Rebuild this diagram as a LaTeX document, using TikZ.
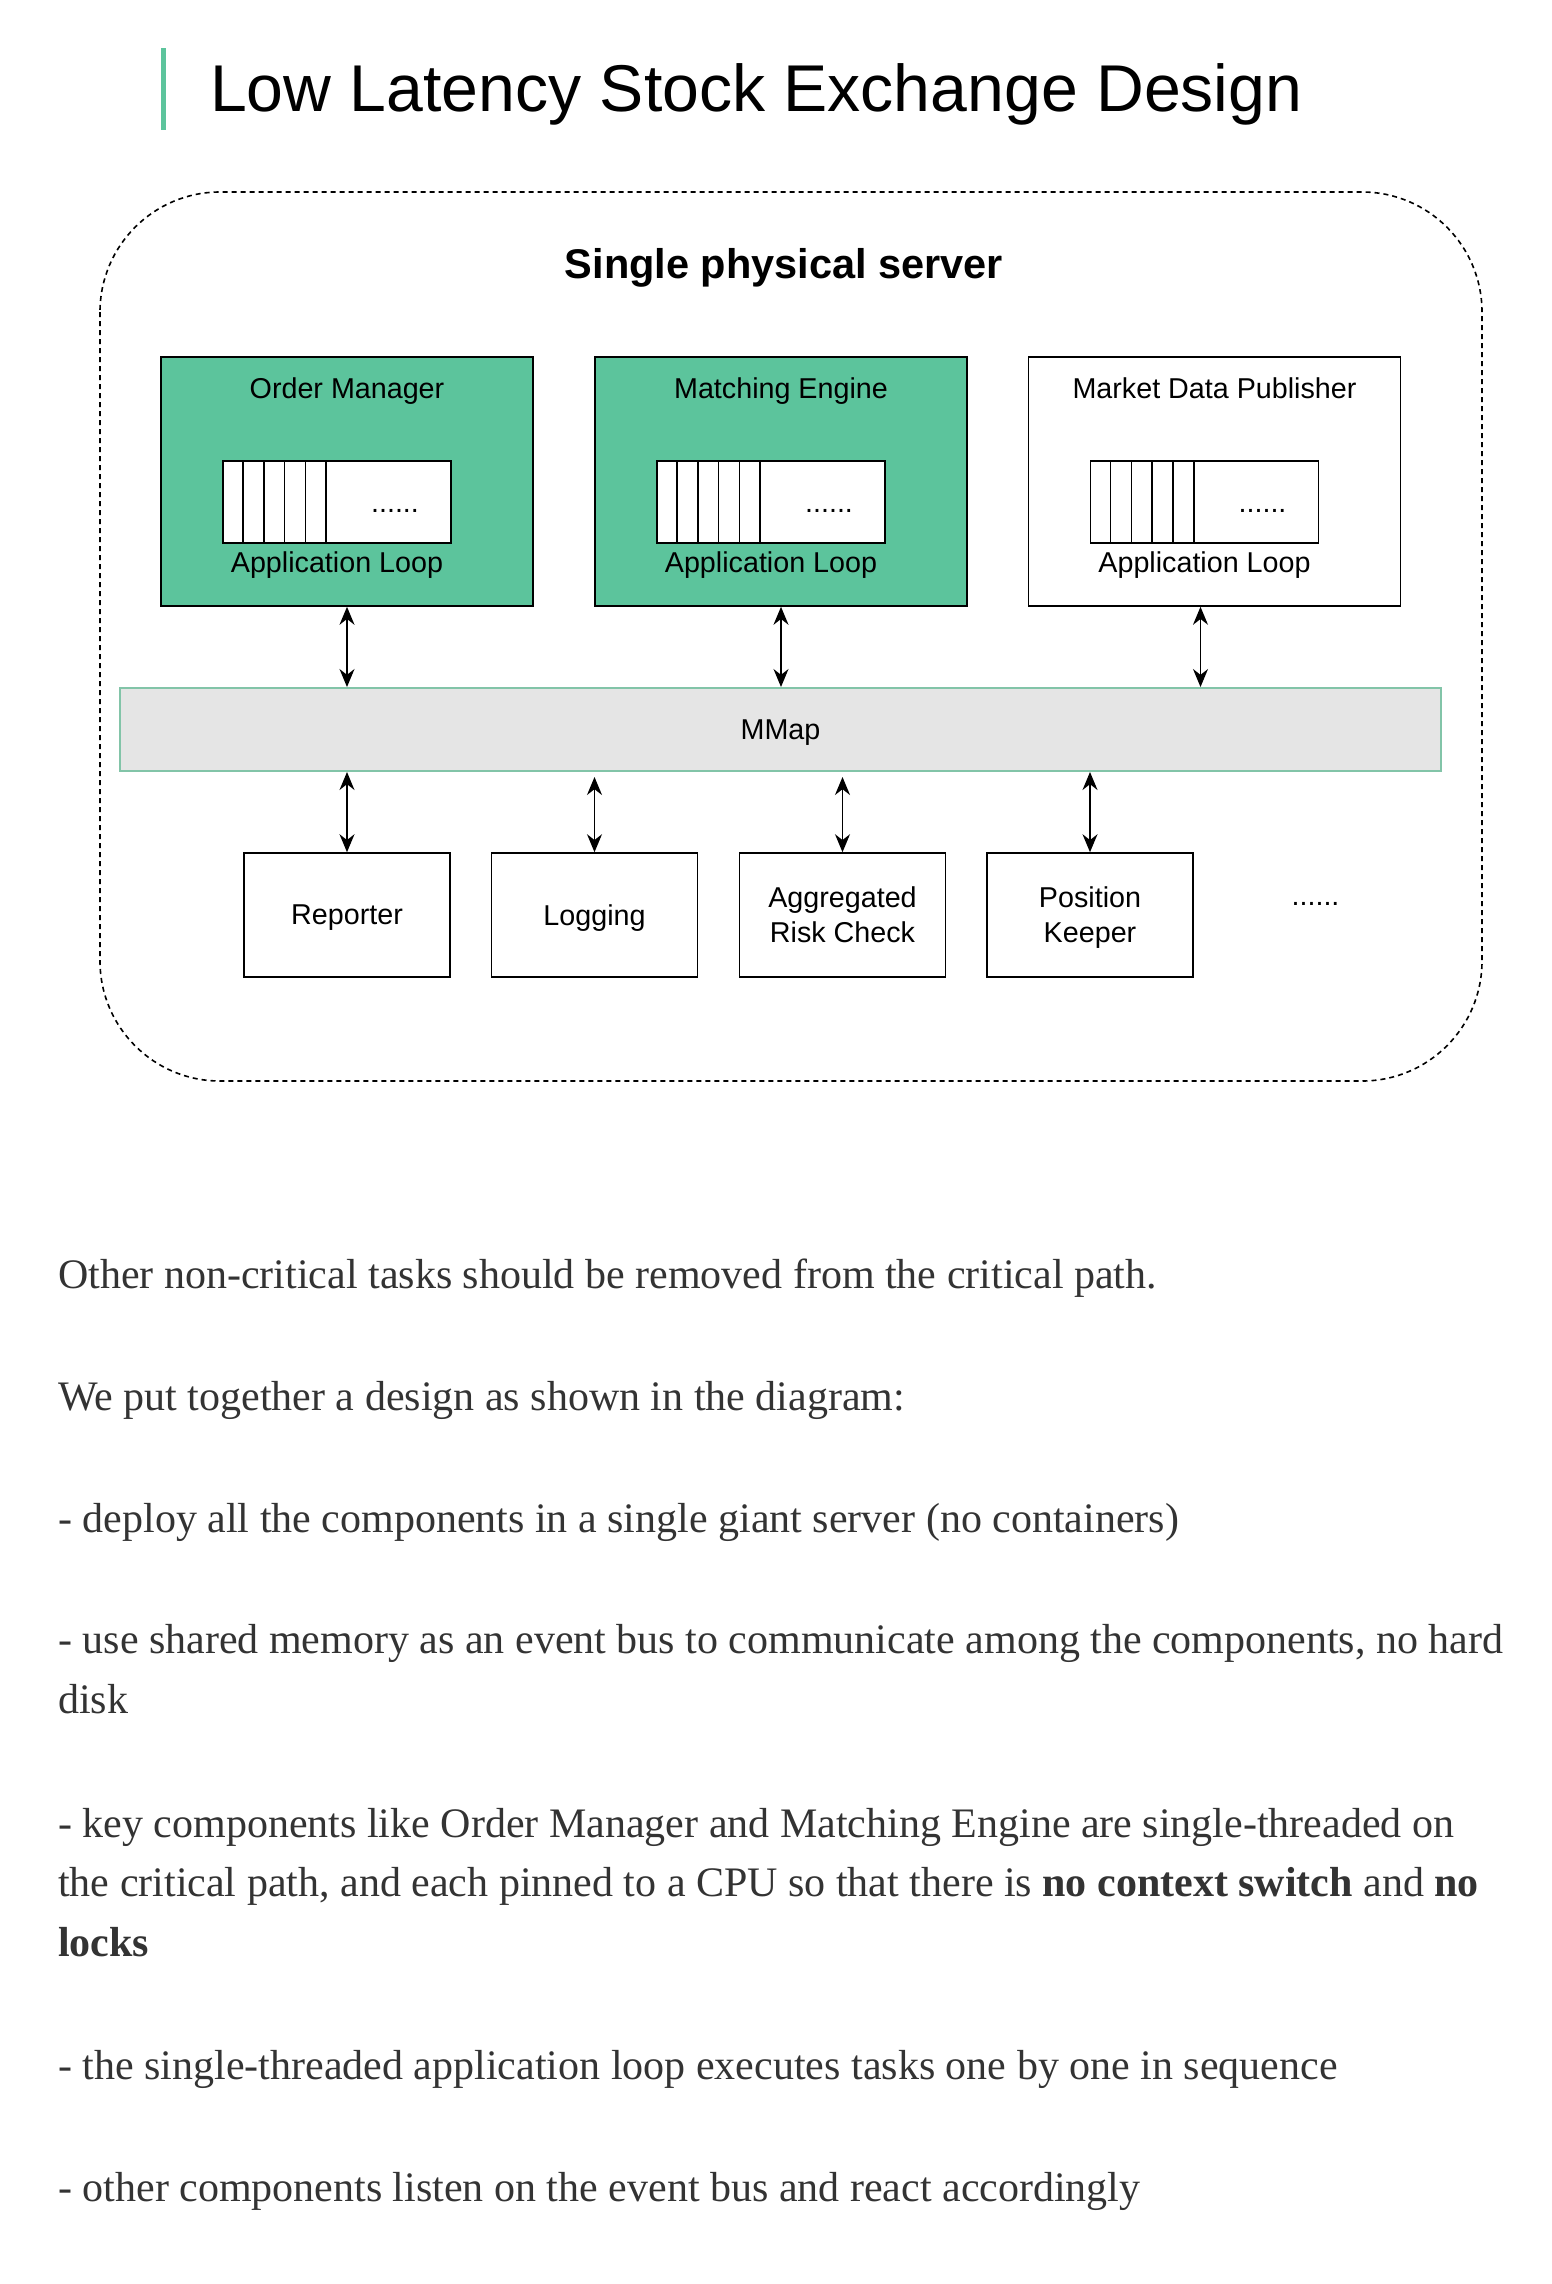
\documentclass[tikz,border=0pt]{standalone}
\usepackage{fontspec}
\setmainfont{Liberation Serif}
\newfontfamily\diagfont{Liberation Sans}
\usetikzlibrary{arrows.meta}
\definecolor{compgreen}{RGB}{92,196,156}
\definecolor{busline}{RGB}{130,196,168}
\definecolor{busfill}{RGB}{229,229,229}
\definecolor{bodytext}{RGB}{51,51,51}

\begin{document}
\begin{tikzpicture}[
	% pixel grid of the page, y runs down
	x=1pt, y=-1pt,
	font=\diagfont\fontsize{28.7}{35}\selectfont,
	comp/.style={draw,line width=1.6pt,fill=compgreen,minimum width=372pt,minimum height=249pt,inner sep=0pt},
	compw/.style={comp,fill=white},
	loopbox/.style={draw,line width=1.6pt,fill=white,minimum width=228pt,minimum height=82pt,inner sep=0pt},
	svc/.style={draw,line width=1.6pt,minimum width=206pt,minimum height=124pt,align=center,inner sep=0pt,text depth=0pt},
	bus/.style={draw=busline,line width=2pt,fill=busfill,minimum width=1321pt,minimum height=83pt,text depth=0pt},
	link/.style={{Stealth[length=18pt,width=15pt]}-{Stealth[length=18pt,width=15pt]},line width=1.3pt},
	body/.style={anchor=base west,inner sep=0pt,text=bodytext,font=\rmfamily\fontsize{42}{50}\selectfont}
	]
	\fill[white] (0,0) rectangle (1552,2284);
	\useasboundingbox (0,0) rectangle (1552,2284);
	
	%
	% Heading
	%
	\fill[compgreen] (160.5,48) rectangle (165.5,130);
	\node[anchor=base west,inner sep=0pt,font=\diagfont\fontsize{66.15}{80}\selectfont] (title) at (210,111) {Low Latency Stock Exchange Design};
	
	%
	% Server frame
	%
	\draw[dash pattern=on 5pt off 4pt,line width=1.6pt,rounded corners=120pt] (100,192) rectangle (1482,1081);
	\node[anchor=base,font=\diagfont\bfseries\fontsize{41.5}{50}\selectfont] (server) at (784,278) {Single physical server};
	
	% critical path components with their loops
	\foreach \n/\x/\t/\s in {om/347/Order Manager/comp, me/781/Matching Engine/comp, mdp/1214.5/Market Data Publisher/compw}{
		\node[\s] (\n) at (\x,481.5) {};
		\node[anchor=base] (\n-title) at (\x,398) {\t};
		\node[loopbox] (\n-loop) at (\x-10,502) {};
		\foreach \i in {1,...,5}{
			\draw[line width=1.6pt] ([xshift=\i*20.8pt]\n-loop.north west) -- ([xshift=\i*20.8pt]\n-loop.south west);
		}
		\node[anchor=base] (\n-dots) at (\x+48,512) {......};
		\node[anchor=base] (\n-label) at (\x-10,572) {Application Loop};
	}
	
	% event bus
	\node[bus] (mmap) at (780.5,729.5) {MMap};
	\draw[link] (om.south) -- (om.south |- mmap.north);
	\draw[link] (me.south) -- (me.south |- mmap.north);
	\draw[link] ([xshift=-14pt]mdp.south) -- ([xshift=-14pt]mdp.south |- mmap.north);
	
	% other components
	\foreach \n/\x/\t in {rep/347/Reporter, log/594.5/Logging, risk/842.5/{Aggregated\\Risk Check}, pos/1090/{Position\\Keeper}}{
		\node[svc] (\n) at (\x,915) {\t};
	}
	\node[anchor=base] (more) at (1315.5,905) {......};
	\draw[link] (rep.north |- mmap.south) -- (rep.north);
	\draw[link,shorten <=5pt] (log.north |- mmap.south) -- (log.north);
	\draw[link,shorten <=5pt] (risk.north |- mmap.south) -- (risk.north);
	\draw[link] (pos.north |- mmap.south) -- (pos.north);
	
	%
	% Notes below the diagram
	%
	\node[body] (p1) at (58,1288) {Other non-critical tasks should be removed from the critical path.};
	\node[body] (p2) at (58,1410) {We put together a design as shown in the diagram:};
	\node[body] (p3) at (58,1532) {- deploy all the components in a single giant server (no containers)};
	\node[body] (p4a) at (58,1653) {- use shared memory as an event bus to communicate among the components, no hard};
	\node[body] (p4b) at (58,1713) {disk};
	\node[body] (p5a) at (58,1837) {- key components like Order Manager and Matching Engine are single-threaded on};
	\node[body] (p5b) at (58,1896) {the critical path, and each pinned to a CPU so that there is \textbf{no context switch} and \textbf{no}};
	\node[body] (p5c) at (58,1956) {\textbf{locks}};
	\node[body] (p6) at (58,2079) {- the single-threaded application loop executes tasks one by one in sequence};
	\node[body] (p7) at (58,2201) {- other components listen on the event bus and react accordingly};
\end{tikzpicture}
\end{document}
